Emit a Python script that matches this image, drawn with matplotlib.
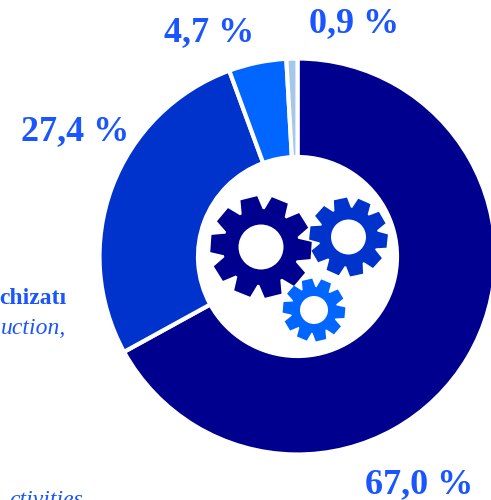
import numpy as np
import matplotlib
matplotlib.use("Agg")
import matplotlib.pyplot as plt

values = [67.0, 27.4, 4.7, 0.9]
colors = ["#00008f", "#0033cc", "#0066ff", "#a6c8e8"]
value_labels = ["67,0 %", "27,4 %", "4,7 %", "0,9 %"]
label_pos = [(419, 485), (75, 132), (209, 33), (354, 24)]

text_color = "#1a55ff"
serif = ["Liberation Serif", "DejaVu Serif"]


# Draws a gear as a filled polygon, the hole is drawn on top in white
def draw_gear(ax, cx, cy, outer, root, hole, phase, color, teeth=10):
    pitch = 2 * np.pi / teeth
    xs = []
    ys = []
    for i in range(teeth):
        a = np.radians(phase) + i * pitch
        for r, da in [(root, -0.34), (outer, -0.20), (outer, 0.20), (root, 0.34)]:
            xs.append(cx + r * np.cos(a + da * pitch * 1.35))
            ys.append(cy - r * np.sin(a + da * pitch * 1.35))
    ax.fill(xs, ys, color=color, lw=0, zorder=3)
    ax.add_patch(plt.Circle((cx, cy), hole, color="white", lw=0, zorder=4))


fig = plt.figure(figsize=(4.91, 5.0), dpi=100)
ax = fig.add_axes([0, 0, 1, 1])

# y axis is flipped below, so this runs clockwise from the top on screen
ax.pie(values, colors=colors, startangle=-90, counterclock=True,
       center=(297.5, 256.5), radius=198, frame=True,
       wedgeprops={"width": 98.5, "edgecolor": "white", "linewidth": 3})

draw_gear(ax, 261, 247, 51, 38, 22.5, 104, colors[0])
draw_gear(ax, 348.5, 237, 39.5, 29.5, 17.5, 102, colors[1])
draw_gear(ax, 314, 310, 31.5, 23, 14, 103, colors[2])

for lab, (x, y) in zip(value_labels, label_pos):
    ax.text(x, y, lab, color=text_color, fontsize=26, fontweight="bold",
            family=serif, ha="center", va="center")

# Only these ends of the side captions are inside the picture
ax.text(66, 299, "chizatı", color=text_color, fontsize=17,
        fontweight="bold", family=serif, ha="right", va="center")
ax.text(66, 328, "uction,", color=text_color, fontsize=17,
        style="italic", family=serif, ha="right", va="center")
ax.text(83, 500, "ctivities", color=text_color, fontsize=17,
        style="italic", family=serif, ha="right", va="center")

ax.set_xlim(0, 491)
ax.set_ylim(500, 0)
ax.axis("off")

fig.savefig("out.png", dpi=100)
